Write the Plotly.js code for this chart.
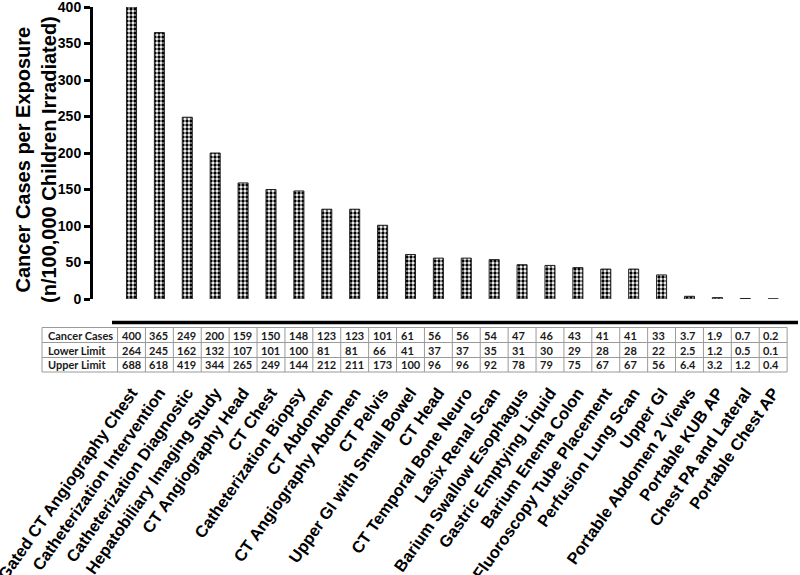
<!DOCTYPE html>
<html>
<head>
<meta charset="utf-8">
<script src="https://cdn.plot.ly/plotly-3.0.1.min.js"></script>
<style>html,body{margin:0;padding:0;background:#fff;}#chart{width:800px;height:575px;}</style>
</head>
<body>
<div id="chart"></div>
<script>
const categories = ["Gated CT Angiography Chest","Catheterization Intervention","Catheterization Diagnostic","Hepatobiliary Imaging Study","CT Angiography Head","CT Chest","Catheterization Biopsy","CT Abdomen","CT Angiography Abdomen","CT Pelvis","Upper GI with Small Bowel","CT Head","CT Temporal Bone Neuro","Lasix Renal Scan","Barium Swallow Esophagus","Gastric Emptying Liquid","Barium Enema Colon","Fluoroscopy Tube Placement","Perfusion Lung Scan","Upper GI","Portable Abdomen 2 Views","Portable KUB AP","Chest PA and Lateral","Portable Chest AP"];
const cancerCases = [400,365,249,200,159,150,148,123,123,101,61,56,56,54,47,46,43,41,41,33,3.7,1.9,0.7,0.2];
const lowerLimit = [264,245,162,132,107,101,100,81,81,66,41,37,37,35,31,30,29,28,28,22,2.5,1.2,0.5,0.1];
const upperLimit = [688,618,419,344,265,249,144,212,211,173,100,96,96,92,78,79,75,67,67,56,6.4,3.2,1.2,0.4];
const rowNames = ["Cancer Cases","Lower Limit","Upper Limit"];
const yTickVals = [0,50,100,150,200,250,300,350,400];
const yTitle = 'Cancer Cases per Exposure<br>(n/100,000 Children Irradiated)';

// layout geometry (pixels)
const W = 800, H = 575;
const ML = 93, MR = 2, MT = 7, MB = 276;
const PW = W - ML - MR, PH = H - MT - MB;
const xRange = [-1.38, 23.89];
const px2paperX = px => (px - ML) / PW;
const py2paperY = py => (H - MB - py) / PH;
const cat2paperX = c => (c - xRange[0]) / (xRange[1] - xRange[0]);

const rows = [cancerCases, lowerLimit, upperLimit];
const rowLines = [327.5, 342.5, 357.5, 372];
const tableLeft = 42;

const shapes = [];
const annotations = [];
const gridColor = '#9a9a9a';
rowLines.forEach(py => {
  shapes.push({type:'line', xref:'paper', yref:'paper', x0:px2paperX(tableLeft), x1:cat2paperX(categories.length-0.5), y0:py2paperY(py), y1:py2paperY(py), line:{color:gridColor, width:1}});
});
const vx = [px2paperX(tableLeft)];
for (let i = 0; i <= categories.length; i++) vx.push(cat2paperX(i-0.5));
vx.forEach(x => {
  shapes.push({type:'line', xref:'paper', yref:'paper', x0:x, x1:x, y0:py2paperY(rowLines[0]), y1:py2paperY(rowLines[3]), line:{color:gridColor, width:1}});
});
// offset x-axis line
shapes.push({type:'line', xref:'paper', yref:'paper', x0:px2paperX(112), x1:px2paperX(798), y0:py2paperY(322.5), y1:py2paperY(322.5), line:{color:'#000', width:3.5}});

const cellFont = {family:'Lato, "Open Sans", sans-serif', size:11, color:'#1a1a1a', weight:700};
rows.forEach((vals, r) => {
  const yc = py2paperY((rowLines[r] + rowLines[r+1]) / 2);
  annotations.push({xref:'paper', yref:'paper', x:px2paperX(tableLeft+4), y:yc, xanchor:'left', yanchor:'middle', text:rowNames[r], showarrow:false, font:cellFont});
  vals.forEach((v, i) => {
    annotations.push({xref:'x', yref:'paper', x:i-0.5, xshift:2, y:yc, xanchor:'left', yanchor:'middle', text:String(v), showarrow:false, font:cellFont});
  });
});
// y-axis title
annotations.push({xref:'paper', yref:'paper', x:px2paperX(36), y:py2paperY(160), xanchor:'center', yanchor:'middle',
  text:yTitle, textangle:-90, showarrow:false,
  font:{family:'"Liberation Sans", Arial, sans-serif', size:20, color:'#000', weight:700}});

const trace = {
  type:'bar',
  x: categories,
  y: cancerCases,
  width: 0.36,
  marker: {
    color:'#ffffff',
    line:{color:'#222', width:1},
    pattern:{shape:'.', size:4, solidity:0.55, fgcolor:'#000', bgcolor:'#fff', fillmode:'replace'}
  },
  hoverinfo:'x+y'
};

const layout = {
  width: W, height: H,
  margin: {l:ML, r:MR, t:MT, b:MB, autoexpand:false},
  paper_bgcolor:'#fff', plot_bgcolor:'#fff',
  showlegend:false,
  font:{family:'"Liberation Sans", Arial, sans-serif', color:'#000'},
  xaxis: {
    type:'category',
    range: xRange,
    showline:false, showgrid:false, zeroline:false,
    ticks:'',
    tickangle:-55,
    ticklabelstandoff:80,
    tickfont:{family:'"Liberation Sans", Arial, sans-serif', size:16.5, color:'#000', weight:700},
    automargin:false
  },
  yaxis: {
    range:[0,400],
    tickvals: yTickVals,
    ticktext: yTickVals.map(String),
    ticklabeloverflow:'allow',
    showgrid:false, zeroline:false,
    showline:true, linecolor:'#000', linewidth:3,
    ticks:'outside', ticklen:6, tickwidth:3, tickcolor:'#000',
    tickfont:{family:'"Liberation Sans", Arial, sans-serif', size:14, color:'#000', weight:700},
    automargin:false
  },
  shapes: shapes,
  annotations: annotations
};

Plotly.newPlot('chart', [trace], layout, {displayModeBar:false, staticPlot:true});
</script>
</body>
</html>
